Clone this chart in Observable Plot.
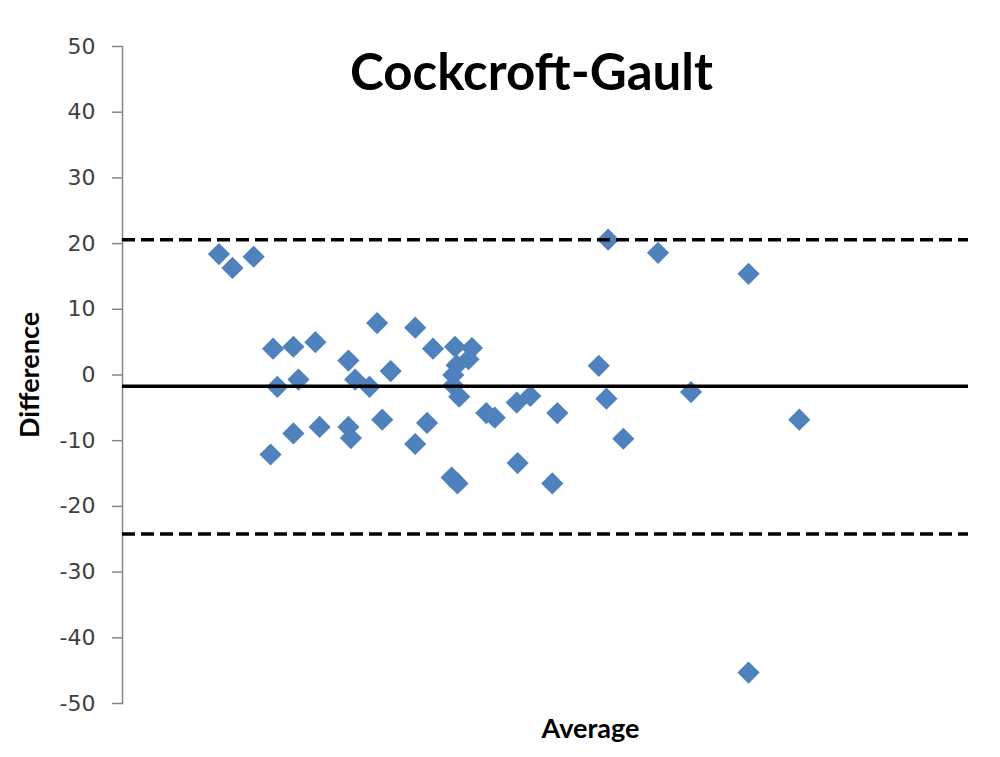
<!DOCTYPE html>
<html>
<head>
<meta charset="utf-8">
<script src="https://cdn.jsdelivr.net/npm/d3@7"></script>
<script src="https://cdn.jsdelivr.net/npm/@observablehq/plot@0.6"></script>
<style>
  html, body { margin: 0; padding: 0; background: #fff; }
  #chart svg { display: block; }
</style>
</head>
<body>
<div id="chart"></div>
<script>
// Average of the two methods (x, no tick labels in the original; read as relative positions)
const average = [11.4, 13.0, 15.5, 17.8, 20.2, 22.8, 18.3, 20.8, 17.5, 20.2, 23.3, 26.7, 26.7, 27.0, 27.5, 29.2, 30.1, 30.7, 31.7, 34.6, 34.6, 36.0, 36.7, 39.3, 41.3, 40.9, 39.5, 39.1, 39.1, 39.8, 38.9, 39.6, 43.0, 44.0, 46.6, 48.2, 46.7, 50.8, 51.4, 56.3, 57.2, 57.4, 59.2, 63.3, 67.2, 74.0, 74.0, 80.0];
// Difference between the two methods
const difference = [18.4, 16.3, 18.0, 4.0, 4.3, 5.0, -1.8, -0.7, -12.1, -8.9, -7.9, 2.2, -7.9, -9.6, -0.7, -1.8, 7.9, -6.8, 0.6, 7.2, -10.5, -7.3, 4.0, 4.3, 4.1, 2.4, 1.5, 0.0, -1.6, -3.3, -15.6, -16.5, -5.8, -6.5, -4.2, -3.2, -13.4, -16.5, -5.8, 1.4, -3.6, 20.6, -9.7, 18.6, -2.6, 15.4, -45.3, -6.8];
const meanDiff = [-1.7];
const limits = [20.6, -24.2];
const yTicks = [-50, -40, -30, -20, -10, 0, 10, 20, 30, 40, 50];
const titleText = ["Cockcroft-Gault"];
const xLabel = ["Average"];
const yLabel = ["Difference"];

const points = average.map((a, i) => ({avg: a, diff: difference[i]}));

const chart = Plot.plot({
  width: 1000,
  height: 757,
  marginLeft: 122,
  marginRight: 32,
  marginTop: 46,
  marginBottom: 54,
  style: {background: "#fff", fontFamily: "DejaVu Sans"},
  x: {domain: [0, 100], axis: null},
  y: {domain: [-50, 50], axis: null},
  marks: [
    Plot.frame({anchor: "left", stroke: "#868686", strokeWidth: 1.5}),
    Plot.axisY({ticks: yTicks, tickSize: 10, tickPadding: 17, stroke: "#868686", strokeWidth: 1.5,
      fill: "#404040", fontSize: 22, fontFamily: "DejaVu Sans", label: null, tickFormat: d => d}),
    Plot.dot(points, {x: "avg", y: "diff", symbol: "diamond2", r: 10, fill: "#4F81BD", stroke: "none"}),
    Plot.ruleY(limits, {stroke: "#000", strokeWidth: 3.5, strokeDasharray: "13,6"}),
    Plot.ruleY(meanDiff, {stroke: "#000", strokeWidth: 3.5}),
    Plot.text(titleText, {frameAnchor: "top", dx: -14, dy: 27, fontSize: 51, fontWeight: "bold",
      fontFamily: "Lato", fill: "#000", lineAnchor: "middle"}),
    Plot.text(xLabel, {frameAnchor: "bottom", dx: 45, dy: 26, fontSize: 27, fontWeight: "bold",
      fontFamily: "Lato", fill: "#000", lineAnchor: "middle"}),
    Plot.text(yLabel, {frameAnchor: "left", dx: -92, rotate: -90, fontSize: 27, fontWeight: "bold",
      fontFamily: "Lato", fill: "#000", lineAnchor: "middle", textAnchor: "middle"})
  ]
});
document.getElementById("chart").appendChild(chart);
</script>
</body>
</html>
